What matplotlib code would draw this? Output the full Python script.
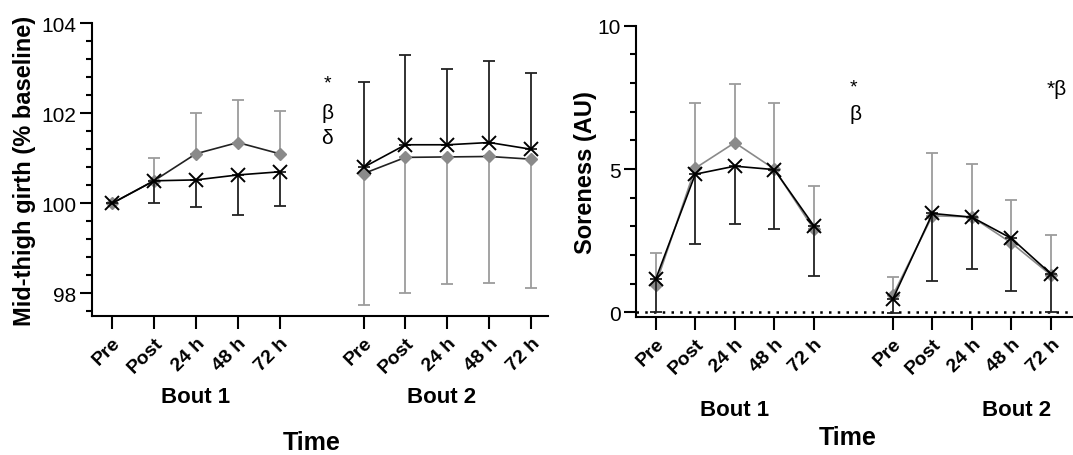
import matplotlib
matplotlib.use("Agg")
import matplotlib.pyplot as plt
import numpy as np
from matplotlib.ticker import MultipleLocator

plt.rcParams["font.family"] = ["Liberation Sans", "DejaVu Sans"]

timepoints = ["Pre", "Post", "24 h", "48 h", "72 h"]
bouts = ["Bout 1", "Bout 2"]

# Mid-thigh girth (% baseline)
girth_gray_b1 = [100.0, 100.5, 101.1, 101.35, 101.1]
girth_gray_b1_up = [0.0, 0.5, 0.9, 0.95, 0.95]
girth_black_b1 = [100.0, 100.5, 100.52, 100.63, 100.7]
girth_black_b1_dn = [0.0, 0.5, 0.6, 0.9, 0.75]
girth_black_b2 = [100.8, 101.3, 101.3, 101.35, 101.2]
girth_black_b2_up = [1.9, 2.0, 1.68, 1.81, 1.7]
girth_gray_b2 = [100.66, 101.02, 101.03, 101.04, 100.98]
girth_gray_b2_dn = [2.91, 3.02, 2.83, 2.81, 2.86]

# Soreness (AU)
sore_gray_b1 = [0.97, 5.03, 5.92, 5.0, 2.9]
sore_gray_b1_up = [1.11, 2.27, 2.05, 2.3, 1.52]
sore_black_b1 = [1.16, 4.82, 5.1, 4.98, 3.02]
sore_black_b1_dn = [1.16, 2.44, 2.02, 2.08, 1.74]
sore_gray_b2 = [0.6, 3.37, 3.33, 2.42, 1.3]
sore_gray_b2_up = [0.64, 2.19, 1.86, 1.49, 1.41]
sore_black_b2 = [0.47, 3.45, 3.32, 2.58, 1.34]
sore_black_b2_dn = [0.49, 2.35, 1.79, 1.83, 1.31]

GRAY = "#8a8a8a"
GRAY_ERR = "#9c9c9c"

x_b1 = np.arange(5)
x_b2 = np.arange(5) + 6


def series(ax, x, y, err, up, color, err_color, marker, line_color, z):
    zeros = np.zeros(len(err))
    yerr = [zeros, err] if up else [err, zeros]
    ax.errorbar(x, y, yerr=yerr, fmt="none", ecolor=err_color, elinewidth=1.3,
                capsize=4.5, capthick=1.3, zorder=z)
    ax.plot(x, y, color=line_color, lw=1.2, zorder=z + 1)
    if marker == "x":
        ax.plot(x, y, ls="none", marker="x", ms=10, mew=1.4, color=color, zorder=z + 2)
    else:
        ax.plot(x, y, ls="none", marker="D", ms=6, color=color, mec=color, zorder=z + 2)


def style_axes(ax):
    for s in ["top", "right"]:
        ax.spines[s].set_visible(False)
    for s in ["left", "bottom"]:
        ax.spines[s].set_linewidth(1.5)
    ax.set_xticks(np.r_[x_b1, x_b2])
    ax.set_xticklabels(timepoints * 2, rotation=45, ha="right", rotation_mode="anchor",
                       fontsize=14, fontweight="bold")
    ax.tick_params(axis="x", length=9, width=1.5, pad=4)
    ax.tick_params(axis="y", which="major", length=9, width=1.5, labelsize=15, pad=2)
    ax.tick_params(axis="y", which="minor", length=4.5, width=1.5)


fig = plt.figure(figsize=(10.73, 4.56), dpi=100)

# left panel: girth
ax1 = fig.add_axes([0.0857, 0.305, 0.425, 0.642])
series(ax1, x_b1, girth_gray_b1, girth_gray_b1_up, True, GRAY, GRAY_ERR, "D", "#222222", 2)
series(ax1, x_b1, girth_black_b1, girth_black_b1_dn, False, "black", "#222222", "x", "black", 5)
series(ax1, x_b2, girth_gray_b2, girth_gray_b2_dn, False, GRAY, GRAY_ERR, "D", "#222222", 2)
series(ax1, x_b2, girth_black_b2, girth_black_b2_up, True, "black", "#222222", "x", "black", 5)
ax1.set_xlim(-0.48, 10.4)
ax1.set_ylim(97.5, 104)
ax1.yaxis.set_major_locator(MultipleLocator(2))
ax1.yaxis.set_minor_locator(MultipleLocator(0.4))
style_axes(ax1)
ax1.set_ylabel("Mid-thigh girth (% baseline)", fontsize=17, fontweight="bold", labelpad=4)
tr1 = ax1.get_xaxis_transform()
ax1.text(2.0, -0.276, bouts[0], transform=tr1, ha="center", va="center", fontsize=16, fontweight="bold")
ax1.text(7.85, -0.276, bouts[1], transform=tr1, ha="center", va="center", fontsize=16, fontweight="bold")
ax1.text(5.13, 102.67, "*", ha="center", va="center", fontsize=14)
ax1.text(5.13, 102.02, "β", ha="center", va="center", fontsize=15)
ax1.text(5.13, 101.47, "δ", ha="center", va="center", fontsize=15)
fig.text(312 / 1073, 1 - 443 / 456, "Time", ha="center", va="center", fontsize=18, fontweight="bold")

# right panel: soreness
ax2 = fig.add_axes([0.5927, 0.3033, 0.4063, 0.6382])
series(ax2, x_b1, sore_gray_b1, sore_gray_b1_up, True, GRAY, GRAY_ERR, "D", GRAY, 2)
series(ax2, x_b1, sore_black_b1, sore_black_b1_dn, False, "black", "#222222", "x", "black", 5)
series(ax2, x_b2, sore_gray_b2, sore_gray_b2_up, True, GRAY, GRAY_ERR, "D", GRAY, 2)
series(ax2, x_b2, sore_black_b2, sore_black_b2_dn, False, "black", "#222222", "x", "black", 5)
ax2.axhline(0, color="black", ls=(0, (1, 2.5)), lw=1.8, zorder=1)
ax2.set_xlim(-0.5, 10.53)
ax2.set_ylim(-0.15, 10)
ax2.yaxis.set_major_locator(MultipleLocator(5))
ax2.yaxis.set_minor_locator(MultipleLocator(1))
style_axes(ax2)
ax2.set_ylabel("Soreness (AU)", fontsize=17, fontweight="bold", labelpad=0)
tr2 = ax2.get_xaxis_transform()
ax2.text(2.0, -0.32, bouts[0], transform=tr2, ha="center", va="center", fontsize=16, fontweight="bold")
ax2.text(9.14, -0.32, bouts[1], transform=tr2, ha="center", va="center", fontsize=16, fontweight="bold")
ax2.text(5.0, 7.85, "*", ha="center", va="center", fontsize=14)
ax2.text(5.05, 6.95, "β", ha="center", va="center", fontsize=15)
ax2.text(10.15, 7.8, "*β", ha="center", va="center", fontsize=15)
fig.text(848 / 1073, 1 - 438 / 456, "Time", ha="center", va="center", fontsize=18, fontweight="bold")

fig.savefig("out.png", dpi=100)
